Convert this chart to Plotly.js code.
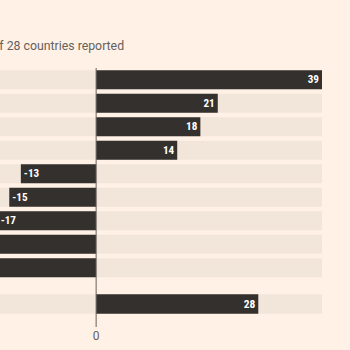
<!DOCTYPE html>
<html>
<head>
<meta charset="utf-8">
<script src="https://cdn.plot.ly/plotly-3.0.1.min.js"></script>
<style>html,body{margin:0;padding:0;background:#fff1e5;}#chart{width:350px;height:350px;}</style>
</head>
<body>
<div id="chart"></div>
<script>
// Main group (top nine rows); labels of the rows lie outside the visible crop
const categories = ["Row 1", "Row 2", "Row 3", "Row 4", "Row 5", "Row 6", "Row 7", "Row 8", "Row 9"];
const values = [39, 21, 18, 14, -13, -15, -17, -21, -24];
// Separate summary row
const totalCategories = ["Total"];
const totalValues = [28];
const subtitle = "Out of 28 countries reported";
const tickValues = [0];
const tickLabels = ["0"];

const allVals = values.concat(totalValues);
const bandStart = Math.min(...allVals) - 20;
const bandEnd = Math.max(...allVals);

const ink = "#33302e", band = "#f2e5da", grey = "#66605c";
const labelFont = "'Liberation Sans Narrow', 'Roboto Condensed', Roboto, sans-serif";

function bandTrace(cats, ya) {
  return {type: "bar", orientation: "h", y: cats, x: cats.map(() => bandEnd - bandStart),
    base: cats.map(() => bandStart), marker: {color: band, line: {width: 0}},
    hoverinfo: "skip", yaxis: ya, showlegend: false};
}
function valueTrace(cats, vals, ya) {
  return {type: "bar", orientation: "h", y: cats, x: vals, yaxis: ya,
    marker: {color: ink, line: {width: 0}}, text: vals.map(v => String(v)),
    texttemplate: "%{text}", textposition: "inside",
    insidetextanchor: "end", textangle: 0,
    insidetextfont: {family: labelFont, size: 12, color: "#ffffff", weight: 700},
    showlegend: false, hoverinfo: "skip"};
}

const data = [
  bandTrace(categories, "y"), valueTrace(categories, values, "y"),
  bandTrace(totalCategories, "y2"), valueTrace(totalCategories, totalValues, "y2")
];

const layout = {
  width: 350, height: 350,
  paper_bgcolor: "#fff1e5", plot_bgcolor: "#fff1e5",
  margin: {l: 0, r: 28, t: 68, b: 23},
  barmode: "overlay", bargap: 0.19,
  showlegend: false,
  xaxis: {range: [-16.6, 39], tickvals: tickValues, ticktext: tickLabels, showgrid: false,
    zeroline: false, showline: false, ticks: "", anchor: "free", position: 0,
    tickfont: {family: "Roboto, sans-serif", size: 12, color: grey}, fixedrange: true},
  yaxis: {domain: [0.1834, 1], autorange: "reversed", showticklabels: false, showgrid: false,
    zeroline: false, ticks: ""},
  yaxis2: {domain: [0.0425, 0.1351], showticklabels: false, showgrid: false, zeroline: false, ticks: ""},
  shapes: [{type: "line", xref: "x", yref: "paper", x0: 0, x1: 0, y0: 0, y1: 1,
    line: {color: grey, width: 1}, layer: "above"}],
  annotations: [{text: subtitle, xref: "paper", yref: "paper", x: 126 / 322, y: (327 - 46) / 259,
    xanchor: "right", yanchor: "middle", showarrow: false,
    font: {family: "Roboto, sans-serif", size: 12.3, color: grey}}]
};

Plotly.newPlot("chart", data, layout, {displayModeBar: false, staticPlot: true});
</script>
</body>
</html>
